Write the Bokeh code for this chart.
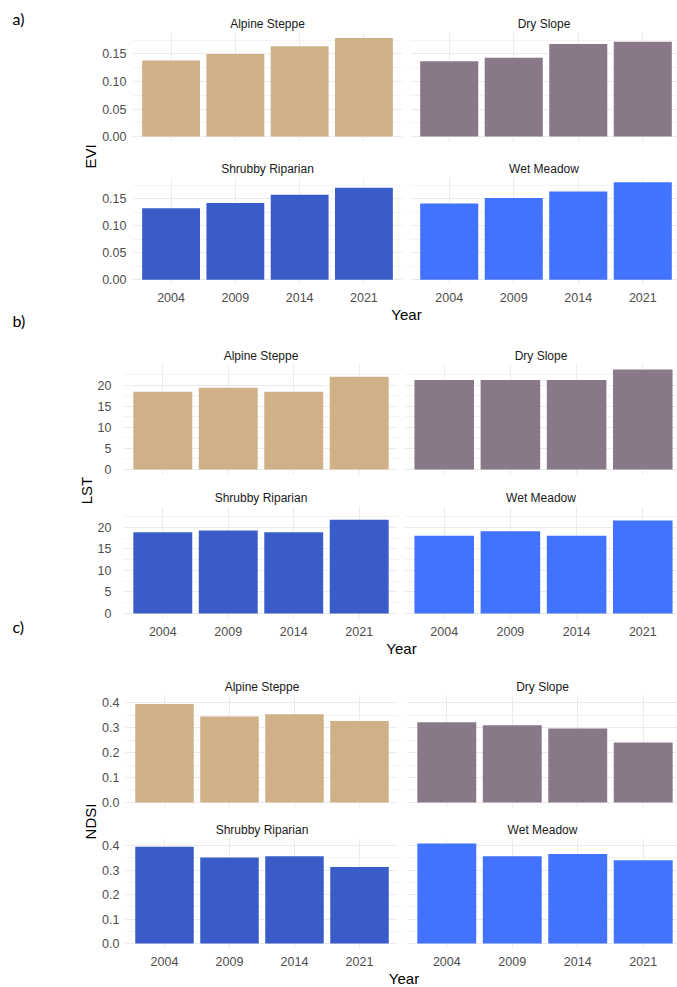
from math import pi
from bokeh.plotting import figure
from bokeh.layouts import row, column
from bokeh.models import (Range1d, FixedTicker, Grid, LinearAxis, Label,
                          ColumnDataSource, PrintfTickFormatter)
from bokeh.embed import file_html
from bokeh.resources import INLINE
from bokeh.core.validation import silence
from bokeh.core.validation.warnings import MISSING_RENDERERS

silence(MISSING_RENDERERS, True)

# ---------------- data ----------------
years = ["2004", "2009", "2014", "2021"]
facets = ["Alpine Steppe", "Dry Slope", "Shrubby Riparian", "Wet Meadow"]
facet_colors = ["#CFB087", "#897988", "#395CC9", "#4273FF"]

evi_alpine = [0.138, 0.150, 0.164, 0.179]
evi_dry = [0.137, 0.143, 0.168, 0.172]
evi_shrubby = [0.132, 0.142, 0.157, 0.170]
evi_wet = [0.141, 0.151, 0.163, 0.180]

lst_alpine = [18.4, 19.4, 18.4, 22.0]
lst_dry = [21.2, 21.2, 21.2, 23.7]
lst_shrubby = [18.9, 19.3, 18.9, 21.8]
lst_wet = [18.1, 19.1, 18.1, 21.6]

ndsi_alpine = [0.395, 0.345, 0.354, 0.327]
ndsi_dry = [0.322, 0.310, 0.297, 0.241]
ndsi_shrubby = [0.396, 0.352, 0.357, 0.313]
ndsi_wet = [0.409, 0.357, 0.366, 0.340]

evi_ticks = [0.0, 0.05, 0.10, 0.15]
evi_minor = [0.025, 0.075, 0.125, 0.175]
lst_ticks = [0, 5, 10, 15, 20]
lst_minor = [2.5, 7.5, 12.5, 17.5, 22.5]
ndsi_ticks = [0.0, 0.1, 0.2, 0.3, 0.4]
ndsi_minor = [0.05, 0.15, 0.25, 0.35]

panel_letters = ["a)", "b)", "c)"]
y_titles = ["EVI", "LST", "NDSI"]
x_title = "Year"

# ---------------- styling ----------------
FONT = "Liberation Sans"
GRID = "#EBEBEB"
TICK_COLOR = "#4D4D4D"
STRIP_COLOR = "#1A1A1A"
LEFT_W = 76


def blank(w, h):
    p = figure(width=w, height=h, x_range=Range1d(0, w), y_range=Range1d(h, 0),
               toolbar_location=None, output_backend="svg", min_border=0,
               x_axis_type=None, y_axis_type=None)
    p.outline_line_color = None
    return p


def style_axis(ax, size, standoff):
    ax.axis_line_color = None
    ax.major_tick_line_color = None
    ax.minor_tick_line_color = None
    ax.major_tick_out = 0
    ax.major_tick_in = 0
    ax.minor_tick_out = 0
    ax.minor_tick_in = 0
    ax.major_label_text_font = FONT
    ax.major_label_text_font_size = size
    ax.major_label_text_color = TICK_COLOR
    ax.major_label_standoff = standoff


def facet(title, vals, color, yr, yticks, yminor, yfmt, x_end, w, h,
          b_left, b_top, b_bottom, show_y, show_x, y_standoff):
    p = figure(width=w, height=h, x_range=Range1d(0.4, x_end),
               y_range=Range1d(yr[0], yr[1]), toolbar_location=None,
               output_backend="svg", x_axis_type=None, y_axis_type=None,
               min_border_left=b_left, min_border_right=0,
               min_border_top=b_top, min_border_bottom=b_bottom, title=title)
    p.outline_line_color = None
    p.title.align = "center"
    p.title.text_font = FONT
    p.title.text_font_size = "12px"
    p.title.text_font_style = "normal"
    p.title.text_color = STRIP_COLOR
    p.title.standoff = 4
    xpos = list(range(1, len(years) + 1))
    xt = FixedTicker(ticks=xpos)
    yt = FixedTicker(ticks=yticks, minor_ticks=yminor)
    p.add_layout(Grid(dimension=0, ticker=xt, grid_line_color=GRID, grid_line_width=1))
    p.add_layout(Grid(dimension=1, ticker=yt, grid_line_color=GRID, grid_line_width=1,
                      minor_grid_line_color=GRID, minor_grid_line_width=0.6))
    src = ColumnDataSource(dict(x=xpos, top=vals))
    p.vbar(x="x", top="top", bottom=0, width=0.9, source=src,
           fill_color=color, line_color=None)
    if show_x:
        ax = LinearAxis(ticker=xt,
                        major_label_overrides={i: y for i, y in zip(xpos, years)})
        style_axis(ax, "12.5px", 8)
        p.add_layout(ax, "below")
    if show_y:
        ay = LinearAxis(ticker=yt, formatter=PrintfTickFormatter(format=yfmt))
        style_axis(ay, "12.5px", y_standoff)
        p.add_layout(ay, "left")
    return p


def yrange(series):
    m = max(max(s) for s in series)
    return (-0.05 * m, 1.05 * m)


panels = [
    dict(series=[evi_alpine, evi_dry, evi_shrubby, evi_wet], ticks=evi_ticks,
         minor=evi_minor, fmt="%.2f", ytitle=y_titles[0],
         strip_w=23, yt_x=14, yt_y=156, b_left=32, gap=8, fw=(271, 267),
         top=(32, 109, 9), bot=(27, 107, 22), year_h=16, year_x=307, year_y=8,
         y_standoff=6),
    dict(series=[lst_alpine, lst_dry, lst_shrubby, lst_wet], ticks=lst_ticks,
         minor=lst_minor, fmt="%.0f", ytitle=y_titles[1],
         strip_w=18, yt_x=9.5, yt_y=168, b_left=26, gap=6, fw=(278, 273),
         top=(42, 110, 12), bot=(20, 112, 22), year_h=16, year_x=307, year_y=8,
         y_standoff=12),
    dict(series=[ndsi_alpine, ndsi_dry, ndsi_shrubby, ndsi_wet], ticks=ndsi_ticks,
         minor=ndsi_minor, fmt="%.1f", ytitle=y_titles[2],
         strip_w=23, yt_x=14, yt_y=165, b_left=24, gap=9, fw=(275, 270),
         top=(39, 112, 10), bot=(21, 110, 21), year_h=18, year_x=304.5, year_y=9,
         y_standoff=6),
]

panel_layouts = []
for spec in panels:
    yr = yrange(spec["series"])
    figs = []
    for k in range(4):
        is_left = (k % 2 == 0)
        is_bottom = (k >= 2)
        bt, fh, bb = spec["bot"] if is_bottom else spec["top"]
        if is_left:
            w = spec["b_left"] + spec["fw"][0]
            bl = spec["b_left"]
            x_end = 4.6
        else:
            w = spec["gap"] + spec["fw"][1]
            bl = spec["gap"]
            x_end = 0.4 + spec["fw"][1] / (spec["fw"][0] / 4.2)
        figs.append(facet(facets[k], spec["series"][k], facet_colors[k], yr,
                          spec["ticks"], spec["minor"], spec["fmt"], x_end, w,
                          bt + fh + bb, bl, bt, bb, is_left, is_bottom,
                          spec["y_standoff"]))
    grid_w = spec["b_left"] + spec["fw"][0] + spec["gap"] + spec["fw"][1]
    top_h = sum(spec["top"])
    bot_h = sum(spec["bot"])
    panel_h = top_h + bot_h + spec["year_h"]

    yearfig = blank(grid_w, spec["year_h"])
    yearfig.add_layout(Label(x=spec["year_x"], y=spec["year_y"], text=x_title,
                             text_font=FONT, text_font_size="15px",
                             text_color="#000000", text_align="center",
                             text_baseline="middle"))
    ystrip = blank(spec["strip_w"], panel_h)
    ystrip.add_layout(Label(x=spec["yt_x"], y=spec["yt_y"], text=spec["ytitle"],
                            angle=pi / 2, text_font=FONT, text_font_size="15px",
                            text_color="#000000", text_align="center",
                            text_baseline="middle"))
    panel_layouts.append(row(ystrip, column(row(figs[0], figs[1]),
                                            row(figs[2], figs[3]), yearfig)))

total_h = 0
for spec in panels:
    total_h += sum(spec["top"]) + sum(spec["bot"]) + spec["year_h"]

left = blank(LEFT_W, total_h)
for txt, yy in zip(panel_letters, [17.5, 320, 626]):
    left.add_layout(Label(x=12, y=yy, text=txt, text_font="Lato",
                          text_font_size="16px", text_color="#000000",
                          text_align="left", text_baseline="middle"))

page = row(left, column(*panel_layouts))

open("out.html", "w").write(file_html(page, INLINE))
